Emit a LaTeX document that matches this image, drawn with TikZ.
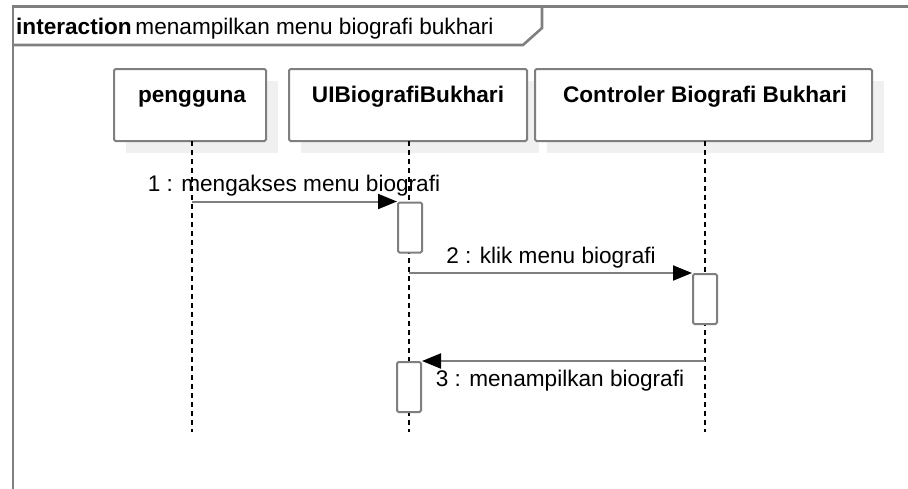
\documentclass[tikz,border=0pt]{standalone}
\usepackage{fontspec}
\setmainfont{Liberation Sans}
\usetikzlibrary{arrows.meta,calc}

\definecolor{edge}{HTML}{7F7F7F}
\definecolor{shade}{HTML}{F0F0F0}
\newcommand{\diagfont}{\fontsize{22.6}{27}\selectfont}

\tikzset{
  frameline/.style={draw=edge, line width=2.6pt},
  headbox/.style={draw=edge, fill=white, line width=2pt, rounded corners=1.5pt,
                  minimum height=72pt, inner sep=0pt},
  headshadow/.style={fill=shade, draw=none, minimum height=72pt, inner sep=0pt},
  headtext/.style={anchor=base, inner sep=0pt, font=\diagfont\bfseries},
  lifeline/.style={draw=black, line width=1.2pt, dash pattern=on 5pt off 4pt},
  actbox/.style={draw=edge, fill=white, line width=2pt, rounded corners=1.5pt,
                 minimum width=24pt, minimum height=50pt, inner sep=0pt},
  msg/.style={draw=edge, line width=2pt,
              -{Triangle[length=19pt,width=15pt,fill=black,color=black]}},
  msgtext/.style={anchor=base, inner sep=0pt},
}

\begin{document}
\begin{tikzpicture}[x=1pt, y=-1pt, font=\diagfont]
  \useasboundingbox (0,0) rectangle (908,488);

  % interaction frame and its name tab
  \draw[frameline] (13,500) -- (13,6.5) -- (920,6.5);
  \draw[frameline] (13,45) -- (523,45) -- (542,28) -- (542,6.5);
  \node[anchor=base west, inner sep=0pt] (title) at (16,34)
    {\textbf{interaction}\,menampilkan menu biografi bukhari};

  % lifeline heads with their drop shadows
  \node[headshadow, minimum width=152pt] (ps) at (202,117) {};
  \node[headshadow, minimum width=238pt] (us) at (420,117) {};
  \node[headshadow, minimum width=337pt] (cs) at (715.5,117) {};

  \node[headbox, minimum width=152pt] (p) at (190,105) {};
  \node[headbox, minimum width=238pt] (u) at (408,105) {};
  \node[headbox, minimum width=337pt] (c) at (703.5,105) {};

  \node[headtext] (pt) at (192,102) {pengguna};
  \node[headtext] (ut) at (408,102) {UIBiografiBukhari};
  \node[headtext] (ct) at (705,102) {Controler Biografi Bukhari};

  % lifelines
  \coordinate (pe) at (192,432);
  \coordinate (ue) at (409,432);
  \coordinate (ce) at (705,432);
  \draw[lifeline] (192,141) -- (pe);
  \draw[lifeline] (409,141) -- (ue);
  \draw[lifeline] (705,141) -- (ce);

  % activation bars
  \node[actbox, anchor=north west] (a1) at (397,201.5) {};
  \node[actbox, anchor=north west] (a2) at (692,273) {};
  \node[actbox, anchor=north west] (a3) at (396,361) {};

  % messages
  \coordinate (m1) at (192,201.5);
  \coordinate (m2) at (409,273);
  \coordinate (m3) at (705,361);
  \draw[msg] (m1) -- (a1.north west);
  \draw[msg] (m2) -- (a2.north west);
  \draw[msg] (m3) -- (a3.north east);

  \node[msgtext] (l1) at (294,191) {1 : mengakses menu biografi};
  \node[msgtext] (l2) at (551,263) {2 : klik menu biografi};
  \node[msgtext] (l3) at (560,386) {3 : menampilkan biografi};
\end{tikzpicture}
\end{document}
